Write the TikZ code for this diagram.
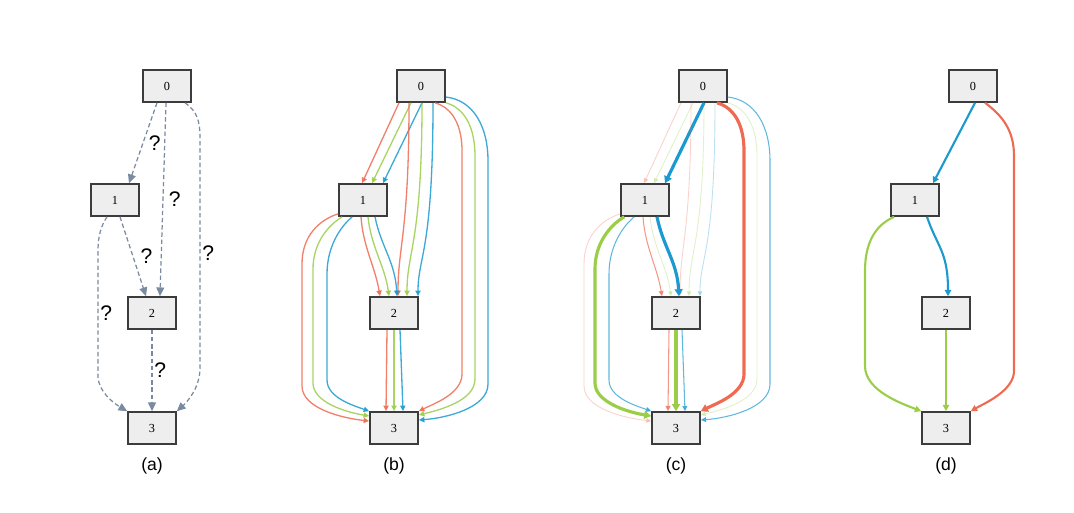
\documentclass[tikz,border=0pt]{standalone}
\usepackage{fontspec}
\setmainfont{Liberation Serif}
\setsansfont{Liberation Sans}
\usetikzlibrary{arrows.meta,positioning}

\definecolor{edgered}{HTML}{EE6B52}
\definecolor{edgegreen}{HTML}{9ACD48}
\definecolor{edgeblue}{HTML}{1A9AD0}
\definecolor{slate}{HTML}{7A8AA0}
\definecolor{boxfill}{HTML}{EEEEEE}
\definecolor{boxline}{HTML}{3C3C3C}

% the three coloured copies of every edge (panels b and c)
\newcommand\tripleedges[1]{%
  % 0 -> 1
  \draw[cr, edgewt=01r] ([shift={(-22,0)}]#10.south) -- ([shift={(-1,0)}]#11.north);
  \draw[cg, edgewt=01g] ([shift={(-10,0)}]#10.south) -- ([shift={(9,0)}]#11.north);
  \draw[cb, edgewt=01b] ([shift={(1,0)}]#10.south) -- ([shift={(20,0)}]#11.north);
  % 0 -> 2
  \draw[cr, edgewt=02r] ([shift={(-12,0)}]#10.south) .. controls +(0,130) and +(0,-50) .. ([shift={(4,0)}]#12.north);
  \draw[cg, edgewt=02g] ([shift={(1,0)}]#10.south) .. controls +(0,140) and +(0,-45) .. ([shift={(13,0)}]#12.north);
  \draw[cb, edgewt=02b] ([shift={(12,0)}]#10.south) .. controls +(0,150) and +(0,-40) .. ([shift={(24,0)}]#12.north);
  % 0 -> 3
  \draw[cr, edgewt=03r] ([shift={(14,0)}]#10.south) .. controls (32,22) and (41,40) .. (41,65) -- (41,288) .. controls (41,308) and (12,318) .. (#13.north east);
  \draw[cg, edgewt=03g] (#10.south east) .. controls (44,22) and (54,42) .. (54,70) -- (54,293) .. controls (54,315) and (18,324) .. ([shift={(0,-13)}]#13.east);
  \draw[cb, edgewt=03b] ([shift={(0,11)}]#10.east) .. controls (52,14) and (67,40) .. (67,75) -- (67,298) .. controls (67,322) and (25,332) .. ([shift={(0,-8)}]#13.east);
  % 1 -> 2
  \draw[cr, edgewt=12r] ([shift={(-2,0)}]#11.south) .. controls +(2,30) and +(-5,-30) .. ([shift={(-14,0)}]#12.north);
  \draw[cg, edgewt=12g] ([shift={(5,0)}]#11.south) .. controls +(3,30) and +(-4,-30) .. ([shift={(-5,0)}]#12.north);
  \draw[cb, edgewt=12b] ([shift={(12,0)}]#11.south) .. controls +(6,30) and +(-2,-35) .. ([shift={(3,0)}]#12.north);
  % 1 -> 3
  \draw[cr, edgewt=13r] ([shift={(0,-3)}]#11.south west) .. controls (-102,134) and (-119,150) .. (-119,178) -- (-119,300) .. controls (-119,322) and (-80,332) .. ([shift={(0,-7)}]#13.west);
  \draw[cg, edgewt=13g] ([shift={(4,0)}]#11.south west) .. controls (-94,140) and (-108,158) .. (-108,183) -- (-108,297) .. controls (-108,316) and (-76,326) .. ([shift={(0,-12)}]#13.west);
  \draw[cb, edgewt=13b] ([shift={(14,0)}]#11.south west) .. controls (-82,142) and (-94,162) .. (-94,188) -- (-94,294) .. controls (-94,312) and (-66,320) .. (#13.north west);
  % 2 -> 3
  \draw[cr, edgewt=23r] ([shift={(-7,0)}]#12.south) -- ([shift={(-8,0)}]#13.north);
  \draw[cg, edgewt=23g] (#12.south) -- (#13.north);
  \draw[cb, edgewt=23b] ([shift={(6,0)}]#12.south) -- ([shift={(9,0)}]#13.north);
}

\begin{document}
\begin{tikzpicture}[x=0.02cm, y=-0.02cm,
	box/.style={rectangle, draw=boxline, fill=boxfill, line width=0.9pt, minimum width=0.96cm, minimum height=0.64cm, inner sep=0pt, font=\fontsize{7}{8}\selectfont},
	guess/.style={draw=slate, line width=0.7pt, dash pattern=on 2.5pt off 1.6pt, -{Triangle[length=5pt,width=4.5pt]}},
	qmark/.style={font=\sffamily\fontsize{12}{14}\selectfont, inner sep=1pt},
	caption/.style={font=\sffamily\fontsize{10}{12}\selectfont},
	cr/.style={draw=edgered}, cg/.style={draw=edgegreen}, cb/.style={draw=edgeblue},
	plain/.style={line width=0.75pt, opacity=0.85, -{Triangle[length=3.2pt,width=3pt]}},
	faint/.style={line width=0.5pt, opacity=0.3, -{Triangle[length=2.8pt,width=2.6pt]}},
	mid/.style={line width=0.6pt, opacity=0.7, -{Triangle[length=3pt,width=2.8pt]}},
	strong/.style={line width=1.8pt, -{Triangle[length=4pt,width=4.5pt]}},
	chosen/.style={line width=1.2pt, -{Triangle[length=3.6pt,width=3.6pt]}},
	c01r/.style=faint, c01g/.style=faint, c01b/.style=strong,
	c02r/.style=faint, c02g/.style=faint, c02b/.style=faint,
	c03r/.style=strong, c03g/.style=faint, c03b/.style=mid,
	c12r/.style=mid, c12g/.style=faint, c12b/.style=strong,
	c13r/.style=faint, c13g/.style=strong, c13b/.style=mid,
	c23r/.style=mid, c23g/.style=strong, c23b/.style=mid]

	\useasboundingbox (0,0) rectangle (1074,512);

	% (a) unknown edges
	\begin{scope}[shift={(167,86)}]
		\node[box] (a0) at (0,0) {0};
		\node[box] (a1) at (-52,114) {1};
		\node[box] (a2) at (-15,227) {2};
		\node[box] (a3) at (-15,342) {3};
		\draw[guess] ([shift={(-10,0)}]a0.south) -- node[qmark, right, xshift=2pt] (q01) {?} ([shift={(14,0)}]a1.north);
		\draw[guess] ([shift={(-1,0)}]a0.south) -- node[qmark, right, xshift=2pt] (q02) {?} ([shift={(8,0)}]a2.north);
		\draw[guess] ([shift={(18,0)}]a0.south) .. controls (30,25) and (33,35) .. (33,52) -- node[qmark, right] (q03) {?} (33,282) .. controls (33,302) and (20,316) .. (a3.north east);
		\draw[guess] ([shift={(5,0)}]a1.south) -- node[qmark, right, xshift=3pt] (q12) {?} ([shift={(-6,0)}]a2.north);
		\draw[guess] ([shift={(-8,0)}]a1.south) .. controls (-66,140) and (-69,150) .. (-69,165) -- node[qmark, right] (q13) {?} (-69,290) .. controls (-69,306) and (-52,318) .. (a3.north west);
		\draw[guess] (a2.south) -- node[qmark, right] (q23) {?} (a3.north);
		\node[caption, below=4pt of a3] (capa) {(a)};
	\end{scope}

	% (b) all candidates
	\begin{scope}[shift={(421,86)}, edgewt/.style={plain}]
		\node[box] (b0) at (0,0) {0};
		\node[box] (b1) at (-58,114) {1};
		\node[box] (b2) at (-27,227) {2};
		\node[box] (b3) at (-27,342) {3};
		\tripleedges{b}
		\node[caption, below=4pt of b3] (capb) {(b)};
	\end{scope}

	% (c) weighted candidates
	\begin{scope}[shift={(703,86)}, edgewt/.style={c#1}]
		\node[box] (c0) at (0,0) {0};
		\node[box] (c1) at (-58,114) {1};
		\node[box] (c2) at (-27,227) {2};
		\node[box] (c3) at (-27,342) {3};
		\tripleedges{c}
		\node[caption, below=4pt of c3] (capc) {(c)};
	\end{scope}

	% (d) result
	\begin{scope}[shift={(973,86)}]
		\node[box] (d0) at (0,0) {0};
		\node[box] (d1) at (-58,114) {1};
		\node[box] (d2) at (-27,227) {2};
		\node[box] (d3) at (-27,342) {3};
		\draw[cb, chosen] ([shift={(2,0)}]d0.south) -- ([shift={(18,0)}]d1.north);
		\draw[cr, chosen] ([shift={(12,0)}]d0.south) .. controls (30,30) and (41,45) .. (41,70) -- (41,285) .. controls (41,305) and (10,318) .. (d3.north east);
		\draw[cb, chosen] ([shift={(12,0)}]d1.south) .. controls +(10,30) and +(0,-45) .. ([shift={(2,0)}]d2.north);
		\draw[cg, chosen] ([shift={(4,0)}]d1.south west) .. controls (-100,140) and (-108,160) .. (-108,185) -- (-108,280) .. controls (-108,305) and (-70,318) .. (d3.north west);
		\draw[cg, chosen] (d2.south) -- (d3.north);
		\node[caption, below=4pt of d3] (capd) {(d)};
	\end{scope}
\end{tikzpicture}
\end{document}
